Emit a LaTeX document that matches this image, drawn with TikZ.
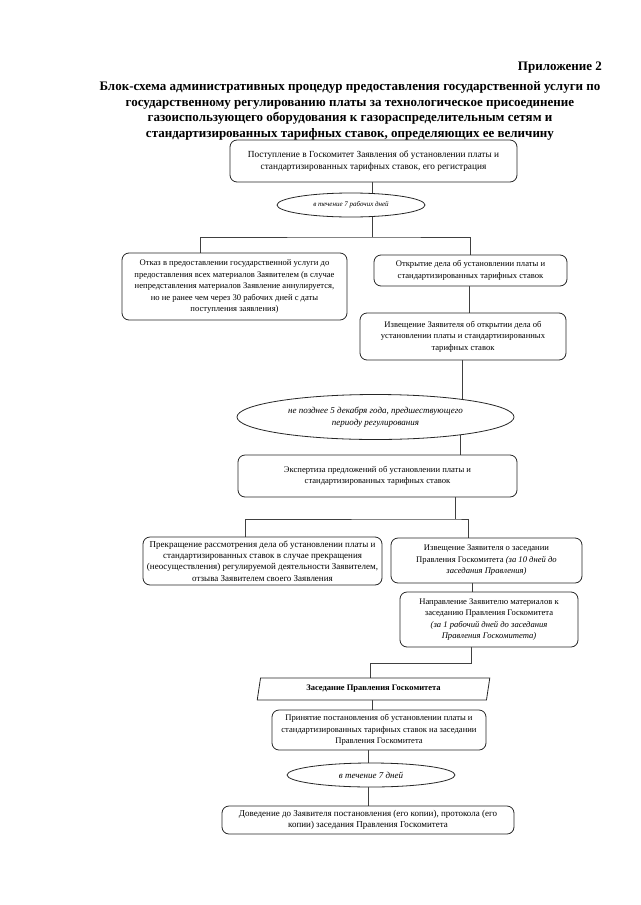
\documentclass[tikz,border=0pt]{standalone}
\usepackage{fontspec}
\setmainfont{Liberation Serif}
\usetikzlibrary{shapes.geometric,backgrounds,calc}
\tikzset{
  box/.style={draw=black!85, line width=0.8pt, rounded corners=7pt, fill=white, align=center,
    font=\fontsize{8.6}{11.5}\selectfont, inner sep=2pt},
  oval/.style={draw=black!85, line width=0.8pt, ellipse, fill=white, align=center, inner sep=0pt,
    font=\fontsize{9}{12.5}\selectfont\itshape},
  para/.style={draw=black!85, line width=0.8pt, trapezium, trapezium left angle=78,
    trapezium right angle=102, trapezium stretches=true, fill=white,
    font=\fontsize{8.5}{10}\selectfont\bfseries, inner sep=1pt},
  conn/.style={draw=black!75, line width=0.7pt},
  ttl/.style={font=\fontsize{13}{15.4}\selectfont\bfseries, align=center, inner sep=0pt}
}
\begin{document}
\begin{tikzpicture}[x=1pt,y=-1pt]
\useasboundingbox (0,0) rectangle (640,905);

\node[ttl, anchor=east] (app) at (602,68) {Приложение 2};
\node[ttl] (title) at (350,111) {Блок-схема административных процедур предоставления государственной услуги по\\
государственному регулированию платы за технологическое присоединение\\
газоиспользующего оборудования к газораспределительным сетям и\\
стандартизированных тарифных ставок, определяющих ее величину};

\node[box, minimum width=287, minimum height=42, font=\fontsize{9.3}{12}\selectfont] (b1) at (373.5,161)
 {Поступление в Госкомитет Заявления об установлении платы и\\ стандартизированных тарифных ставок, его регистрация};
\node[oval, minimum width=148, minimum height=24, font=\fontsize{7}{9}\selectfont\itshape] (e1) at (351,205)
 {в течение 7 рабочих дней};
\node[box, minimum width=225, minimum height=67] (b2) at (234.5,286.5)
 {Отказ в предоставлении государственной услуги до\\ предоставления всех материалов Заявителем (в случае\\ непредставления материалов Заявление аннулируется,\\ но не ранее чем через 30 рабочих дней с даты\\ поступления заявления)};
\node[box, minimum width=193, minimum height=31] (b3) at (470.5,270.5)
 {Открытие дела об установлении платы и\\ стандартизированных тарифных ставок};
\node[box, minimum width=206, minimum height=47] (b4) at (463,336.5)
 {Извещение Заявителя об открытии дела об\\ установлении платы и стандартизированных\\ тарифных ставок};
\node[oval, minimum width=277, minimum height=45] (e2) at (375.5,417)
 {не позднее 5 декабря года, предшествующего\\ периоду регулирования};
\node[box, minimum width=279, minimum height=42] (b5) at (377.5,476)
 {Экспертиза предложений об установлении платы и\\ стандартизированных тарифных ставок};
\node[box, minimum width=239, minimum height=48, font=\fontsize{9}{11.3}\selectfont] (b6) at (262.5,561)
 {Прекращение рассмотрения дела об установлении платы и\\ стандартизированных ставок в случае прекращения\\ (неосуществления) регулируемой деятельности Заявителем,\\ отзыва Заявителем своего Заявления};
\node[box, minimum width=191, minimum height=45] (b7) at (486.5,560.5)
 {Извещение Заявителя о заседании\\ Правления Госкомитета \textit{(за 10 дней до}\\ \textit{заседания Правления)}};
\node[box, minimum width=178, minimum height=55] (b8) at (489,619.5)
 {Направление Заявителю материалов к\\ заседанию Правления Госкомитета\\ \textit{(за 1 рабочий дней до заседания}\\ \textit{Правления Госкомитета)}};
\node[para, minimum width=233, minimum height=22] (p1) at (373.5,689)
 {Заседание Правления Госкомитета};
\node[box, minimum width=214, minimum height=40] (b9) at (379,730)
 {Принятие постановления об установлении платы и\\ стандартизированных тарифных ставок на заседании\\ Правления Госкомитета};
\node[oval, minimum width=168, minimum height=24] (e3) at (371,775)
 {в течение 7 дней};
\node[box, minimum width=292, minimum height=28, font=\fontsize{9}{11.5}\selectfont] (b10) at (368,820)
 {Доведение до Заявителя постановления (его копии), протокола (его\\ копии) заседания Правления Госкомитета};

\coordinate (j1) at (372,237);
\coordinate (j2) at (455,519);
\coordinate (j3) at (471,663);

\begin{pgfonlayer}{background}
\draw[conn] ([xshift=-1.5pt]b1.south) -- ([xshift=-1.5pt]b1.south |- e1.center);
\draw[conn] ([xshift=-1.5pt]b1.south |- e1.center) -- (j1);
\draw[conn] ([xshift=-34.5pt]b2.north) |- (j1) -| (b3.north);
\draw[conn] ([xshift=-1.5pt]b3.south) -- ([xshift=-1.5pt]b3.south |- b4.north);
\draw[conn] ([xshift=-1pt]b4.south) -- ([xshift=-1pt]b4.south |- e2.center);
\draw[conn] ([xshift=-3pt]b4.south |- e2.center) -- ([xshift=-3pt]b4.south |- b5.north);
\draw[conn] (b5.south -| j2) -- (j2);
\draw[conn] ([xshift=-17.5pt]b6.north) |- (j2) -| ([xshift=-18.5pt]b7.north);
\draw[conn] ([xshift=-14.5pt]b7.south) -- ([xshift=-14.5pt]b7.south |- b8.north);
\draw[conn] (b8.south -| j3) -- (j3) -| ([xshift=-3.5pt]p1.north);
\draw[conn] ([xshift=-1.5pt]p1.south) -- ([xshift=-1.5pt]p1.south |- b9.north);
\draw[conn] ([xshift=-3pt]e3.north |- b9.south) -- ([xshift=-3pt]e3.center);
\draw[conn] ([xshift=-3pt]e3.center) -- ([xshift=-3pt]e3.center |- b10.north);
\end{pgfonlayer}
\end{tikzpicture}
\end{document}
